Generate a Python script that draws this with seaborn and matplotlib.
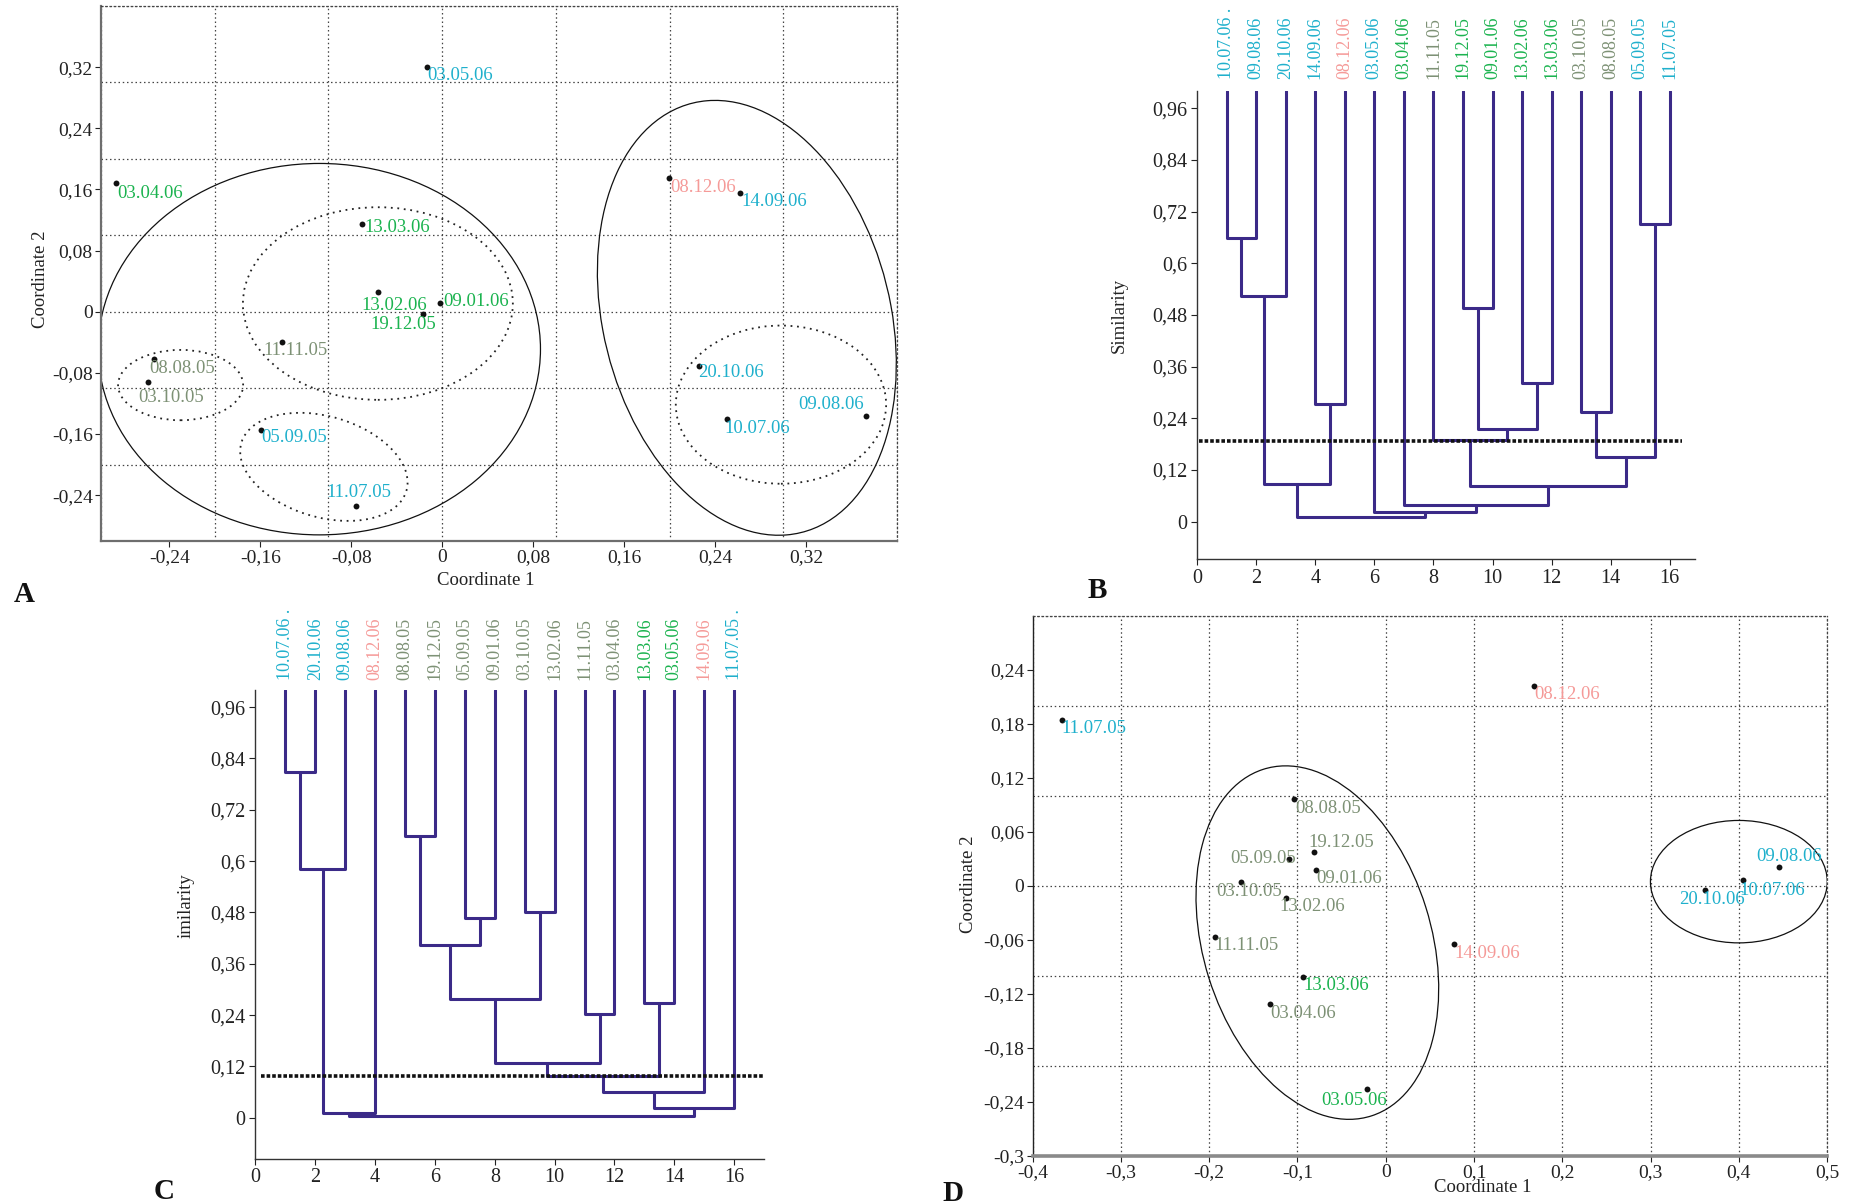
import numpy as np
import pandas as pd
import matplotlib
matplotlib.use("Agg")
import matplotlib.pyplot as plt
from matplotlib.patches import Ellipse
from matplotlib.ticker import FixedLocator, MultipleLocator, FuncFormatter
import seaborn as sns

# ---------------------------------------------------------------- data
# group colour keys
PALETTE = {"blue": "#1fb0cc", "green": "#1bb34f", "grey": "#7d9175", "pink": "#f59a98"}
TREE = "#3b2a88"

# Panel A - ordination, coordinates 1 and 2
a_dates = ["03.05.06", "03.04.06", "13.03.06", "13.02.06", "09.01.06", "19.12.05",
           "11.11.05", "08.08.05", "03.10.05", "05.09.05", "11.07.05", "08.12.06",
           "14.09.06", "20.10.06", "10.07.06", "09.08.06"]
a_coord1 = [-0.0135, -0.287, -0.0706, -0.056, -0.002, -0.0166, -0.141, -0.2535,
            -0.2587, -0.159, -0.0758, 0.1995, 0.262, 0.2255, 0.2504, 0.373]
a_coord2 = [0.320, 0.168, 0.115, 0.026, 0.012, -0.003, -0.040, -0.0615,
            -0.092, -0.155, -0.254, 0.175, 0.155, -0.071, -0.140, -0.137]
a_group = ["blue", "green", "green", "green", "green", "green", "grey", "grey",
           "grey", "blue", "blue", "pink", "blue", "blue", "blue", "blue"]

# Panel B - dendrogram
b_leaves = ["10.07.06 .", "09.08.06", "20.10.06", "14.09.06", "08.12.06", "03.05.06",
            "03.04.06", "11.11.05", "19.12.05", "09.01.06", "13.02.06", "13.03.06",
            "03.10.05", "08.08.05", "05.09.05", "11.07.05"]
b_group = ["blue", "blue", "blue", "blue", "pink", "blue", "green", "grey",
           "green", "green", "green", "green", "grey", "grey", "blue", "blue"]
# (left child, right child, similarity); children >= 16 refer to earlier links
b_links = [(0, 1, 0.658), (16, 2, 0.523), (3, 4, 0.273), (17, 18, 0.088),
           (8, 9, 0.495), (10, 11, 0.322), (20, 21, 0.216), (7, 22, 0.190),
           (12, 13, 0.255), (14, 15, 0.692), (24, 25, 0.151), (23, 26, 0.083),
           (6, 27, 0.0385), (5, 28, 0.023), (19, 29, 0.011)]
b_cut = 0.187

# Panel C - dendrogram
c_leaves = ["10.07.06 .", "20.10.06", "09.08.06", "08.12.06", "08.08.05", "19.12.05",
            "05.09.05", "09.01.06", "03.10.05", "13.02.06", "11.11.05", "03.04.06",
            "13.03.06", "03.05.06", "14.09.06", "11.07.05 ."]
c_group = ["blue", "blue", "blue", "pink", "grey", "grey", "grey", "grey",
           "grey", "grey", "grey", "grey", "green", "green", "pink", "blue"]
c_links = [(0, 1, 0.8095), (16, 2, 0.5825), (17, 3, 0.010), (4, 5, 0.658),
           (6, 7, 0.466), (19, 20, 0.403), (8, 9, 0.4815), (21, 22, 0.2766),
           (10, 11, 0.2435), (23, 24, 0.1277), (12, 13, 0.2692), (25, 26, 0.0983),
           (27, 14, 0.0597), (28, 15, 0.023), (18, 29, 0.0037)]
c_cut = 0.098

# Panel D - ordination, coordinates 1 and 2
d_dates = ["11.07.05", "08.12.06", "08.08.05", "19.12.05", "05.09.05", "09.01.06",
           "03.10.05", "13.02.06", "11.11.05", "14.09.06", "13.03.06", "03.04.06",
           "03.05.06", "20.10.06", "10.07.06", "09.08.06"]
d_coord1 = [-0.367, 0.168, -0.104, -0.0818, -0.1093, -0.0785, -0.1636, -0.1126,
            -0.1937, 0.0772, -0.0936, -0.1309, -0.0209, 0.3619, 0.4051, 0.445]
d_coord2 = [0.1842, 0.2217, 0.096, 0.0379, 0.0297, 0.0181, 0.0043, -0.0133,
            -0.0564, -0.0646, -0.1016, -0.1313, -0.2255, -0.0047, 0.0069, 0.0215]
d_group = ["blue", "pink", "grey", "grey", "grey", "grey", "grey", "grey",
           "grey", "pink", "green", "grey", "green", "blue", "blue", "blue"]

# ---------------------------------------------------------------- layout / style
# label offsets (points) relative to each marker
a_label_offsets = [(0, -6), (1, -7), (2, -2.5), (-12, -9.5), (2.5, 1), (-38, -7.5),
                   (-13.5, -6), (-3.5, -7), (-7, -11), (0, -5), (-21, 9.5), (1, -7),
                   (1, -6), (0, -5), (-2, -7), (-49, 8.5)]
d_label_offsets = [(0, -6), (0, -6), (1, -6.5), (-4, 7), (-42.5, 0.5), (0, -6.5),
                   (-18, -7), (-5, -6.5), (0, -6.5), (0, -7), (0, -6), (0, -6.5),
                   (-33, -8.5), (-19, -7), (-3, -8), (-16, 7.5)]

# cluster outlines: (cx, cy, width, height, angle, linestyle)
a_outlines = [(-0.108, -0.049, 0.389, 0.486, 0, "solid"),
              (0.268, -0.008, 0.2554, 0.5724, 7.0, "solid"),
              (-0.0565, 0.0107, 0.2374, 0.252, 0, "dotted"),
              (-0.230, -0.096, 0.110, 0.092, 0, "dotted"),
              (-0.104, -0.203, 0.164, 0.1216, -41, "dotted"),
              (0.298, -0.1216, 0.185, 0.207, 0, "dotted")]
d_outlines = [(-0.0775, -0.063, 0.258, 0.404, 17.8, "solid"),
              (0.400, 0.0047, 0.2003, 0.136, 0, "solid")]

sns.set_style("ticks")
plt.rcParams["font.family"] = ["Liberation Serif", "DejaVu Serif"]
plt.rcParams["axes.unicode_minus"] = False

GRID_LS = (0, (1.2, 2.2))
TICK_FS = 14
LABEL_FS = 13.5
POINT_FS = 13.5


def comma_fmt(v, pos=None):
    s = f"{v:.2f}".rstrip("0").rstrip(".")
    if s in ("-0", "", "-"):
        s = "0"
    return s.replace(".", ",")


def style_ordination(ax, xlim, ylim, xticks, yticks):
    ax.set_xlim(*xlim)
    ax.set_ylim(*ylim)
    ax.xaxis.set_major_locator(FixedLocator(xticks))
    ax.yaxis.set_major_locator(FixedLocator(yticks))
    # grid sits on every 0.1, independent of the labelled ticks
    ax.xaxis.set_minor_locator(MultipleLocator(0.1))
    ax.yaxis.set_minor_locator(MultipleLocator(0.1))
    ax.xaxis.remove_overlapping_locs = False
    ax.yaxis.remove_overlapping_locs = False
    ax.xaxis.set_major_formatter(FuncFormatter(comma_fmt))
    ax.yaxis.set_major_formatter(FuncFormatter(comma_fmt))
    ax.grid(False, which="major")
    ax.grid(True, which="minor", color="#444444", linestyle=GRID_LS, linewidth=0.9)
    ax.tick_params(which="minor", length=0)
    ax.tick_params(which="major", direction="out", length=4, width=0.8,
                   labelsize=TICK_FS, colors="#222222", pad=2)
    for side in ("top", "right"):
        ax.spines[side].set_visible(True)
        ax.spines[side].set_linestyle(GRID_LS)
        ax.spines[side].set_color("#444444")
        ax.spines[side].set_linewidth(0.9)


def draw_ordination(ax, dates, c1, c2, groups, offsets, outlines):
    df = pd.DataFrame({"c1": c1, "c2": c2, "date": dates, "group": groups})
    for cx, cy, w, h, ang, ls in outlines:
        if ls == "solid":
            e = Ellipse((cx, cy), w, h, angle=ang, fill=False, edgecolor="#111111",
                        linewidth=0.9)
        else:
            e = Ellipse((cx, cy), w, h, angle=ang, fill=False, edgecolor="#222222",
                        linewidth=1.3, linestyle=(0, (1, 2.6)))
        ax.add_patch(e)
    sns.scatterplot(data=df, x="c1", y="c2", color="#111111", s=18, linewidth=0,
                    ax=ax, zorder=4, legend=False)
    for (_, r), (dx, dy) in zip(df.iterrows(), offsets):
        ax.annotate(r["date"], xy=(r["c1"], r["c2"]), xytext=(dx, dy),
                    textcoords="offset points", ha="left", va="center",
                    fontsize=POINT_FS, color=PALETTE[r["group"]], zorder=5)


def dendrogram_segments(n_leaves, links, top=1.0):
    pos = {i: (float(i + 1), top) for i in range(n_leaves)}
    rows = []
    for k, (a, b, h) in enumerate(links):
        xa, ha = pos[a]
        xb, hb = pos[b]
        for x, y in ((xa, ha), (xa, h), (xb, h), (xb, hb)):
            rows.append({"link": k, "x": x, "y": y})
        pos[n_leaves + k] = ((xa + xb) / 2.0, h)
    return pd.DataFrame(rows)


def draw_dendrogram(ax, leaves, groups, links, cut, cut_span, xmax, ymin,
                    label_gap, ylabel):
    seg = dendrogram_segments(len(leaves), links)
    sns.lineplot(data=seg, x="x", y="y", units="link", estimator=None, sort=False,
                 color=TREE, linewidth=2.2, ax=ax, legend=False)
    ax.plot(cut_span, [cut, cut], color="#111111", linewidth=2.6,
            linestyle=(0, (1.0, 0.55)), zorder=3)
    ax.set_xlim(0, xmax)
    ax.set_ylim(ymin, 1.0)
    ax.xaxis.set_major_locator(FixedLocator(list(range(0, 17, 2))))
    ax.yaxis.set_major_locator(FixedLocator([round(0.12 * i, 2) for i in range(9)]))
    ax.yaxis.set_major_formatter(FuncFormatter(comma_fmt))
    ax.xaxis.set_major_formatter(FuncFormatter(lambda v, p: f"{int(round(v))}"))
    ax.tick_params(direction="out", length=4, width=0.8, labelsize=14.5,
                   colors="#222222", pad=3)
    sns.despine(ax=ax)
    for side in ("left", "bottom"):
        ax.spines[side].set_color("#333333")
        ax.spines[side].set_linewidth(1.0)
    ax.set_xlabel("")
    ax.set_ylabel(ylabel, fontsize=LABEL_FS, color="#222222")
    for i, (lab, g) in enumerate(zip(leaves, groups)):
        ax.annotate(lab, xy=(i + 1, 1.0), xytext=(0, label_gap),
                    textcoords="offset points", rotation=90, ha="center",
                    va="bottom", fontsize=13, color=PALETTE[g],
                    annotation_clip=False)


# ---------------------------------------------------------------- figure
fig = plt.figure(figsize=(18.51, 12.03), dpi=100)

# A
axA = fig.add_axes([0.05457, 0.5503, 0.4300, 0.4447])
draw_ordination(axA, a_dates, a_coord1, a_coord2, a_group, a_label_offsets, a_outlines)
style_ordination(axA, (-0.3, 0.4), (-0.3, 0.4),
                 [round(-0.24 + 0.08 * i, 2) for i in range(8)],
                 [round(-0.24 + 0.08 * i, 2) for i in range(8)])
for side in ("left", "bottom"):
    axA.spines[side].set_color("#6e6e6e")
    axA.spines[side].set_linewidth(1.6)
axA.set_xlabel("Coordinate 1", fontsize=LABEL_FS, color="#222222")
axA.set_ylabel("Coordinate 2", fontsize=LABEL_FS, color="#222222")
axA.xaxis.set_label_coords(0.484, -0.058)
axA.yaxis.set_label_coords(-0.065, 0.49)

# B
axB = fig.add_axes([0.6467, 0.5353, 0.2690, 0.3890])
draw_dendrogram(axB, b_leaves, b_group, b_links, b_cut, [0.05, 16.4], 16.85, -0.087,
                9, "Similarity")
axB.yaxis.set_label_coords(-0.14, 0.52)

# C
axC = fig.add_axes([0.1380, 0.0369, 0.2748, 0.3895])
draw_dendrogram(axC, c_leaves, c_group, c_links, c_cut, [0.2, 17.0], 17.0, -0.0955,
                7.5, "imilarity")
axC.yaxis.set_label_coords(-0.119, 0.539)

# D
axD = fig.add_axes([0.5579, 0.0391, 0.4292, 0.4490])
draw_ordination(axD, d_dates, d_coord1, d_coord2, d_group, d_label_offsets, d_outlines)
style_ordination(axD, (-0.4, 0.5), (-0.3, 0.3),
                 [round(-0.4 + 0.1 * i, 1) for i in range(10)],
                 [round(-0.3 + 0.06 * i, 2) for i in range(10)])
axD.spines["left"].set_color("#222222")
axD.spines["left"].set_linewidth(1.0)
axD.spines["bottom"].set_color("#8a8a8a")
axD.spines["bottom"].set_linewidth(2.6)
axD.set_xlabel("Coordinate 1", fontsize=LABEL_FS, color="#222222")
axD.set_ylabel("Coordinate 2", fontsize=LABEL_FS, color="#222222")
axD.xaxis.set_label_coords(0.567, -0.043)
axD.yaxis.set_label_coords(-0.07, 0.503)

# panel letters
letter_kw = dict(fontsize=21, fontweight="bold", color="#111111")
fig.text(0.0076, 0.4996, "A", va="baseline", ha="left", **letter_kw)
fig.text(0.5873, 0.5029, "B", va="baseline", ha="left", **letter_kw)
fig.text(0.0832, 0.0033, "C", va="baseline", ha="left", **letter_kw)
fig.text(0.5089, 0.0020, "D", va="baseline", ha="left", **letter_kw)

fig.savefig("out.png", dpi=100, facecolor="white")
